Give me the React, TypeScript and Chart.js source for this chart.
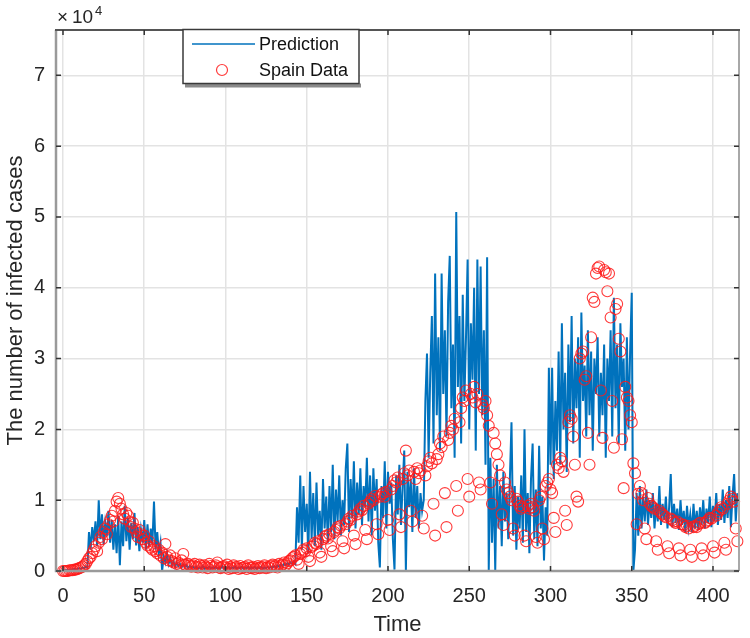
import React, { useEffect, useRef } from 'react';
import { Chart, registerables } from 'chart.js';

Chart.register(...registerables);

// Values are in units of 10^4 cases (the axis shows "x10^4"); index = day (Time)
const spainData: number[] = [
  0.00, 0.00, 0.00, 0.00, 0.01, 0.01, 0.01, 0.02, 0.02, 0.03, // 0-9
  0.04, 0.05, 0.06, 0.08, 0.10, 0.14, 0.18, 0.20, 0.25, 0.30, // 10-19
  0.35, 0.28, 0.40, 0.48, 0.45, 0.55, 0.60, 0.52, 0.66, 0.72, // 20-29
  0.78, 0.70, 0.85, 0.98, 1.03, 0.95, 0.88, 0.80, 0.74, 0.82, // 30-39
  0.78, 0.70, 0.62, 0.68, 0.60, 0.55, 0.48, 0.58, 0.52, 0.45, // 40-49
  0.50, 0.40, 0.36, 0.42, 0.33, 0.30, 0.35, 0.28, 0.25, 0.30, // 50-59
  0.22, 0.26, 0.18, 0.38, 0.20, 0.15, 0.22, 0.14, 0.12, 0.18, // 60-69
  0.10, 0.12, 0.08, 0.15, 0.24, 0.09, 0.07, 0.10, 0.08, 0.06, // 70-79
  0.08, 0.10, 0.06, 0.05, 0.09, 0.07, 0.05, 0.08, 0.06, 0.04, // 80-89
  0.10, 0.07, 0.05, 0.06, 0.08, 0.12, 0.05, 0.04, 0.06, 0.07, // 90-99
  0.05, 0.09, 0.03, 0.06, 0.04, 0.08, 0.05, 0.06, 0.03, 0.07, // 100-109
  0.04, 0.05, 0.06, 0.03, 0.08, 0.05, 0.04, 0.06, 0.03, 0.05, // 110-119
  0.07, 0.04, 0.06, 0.05, 0.08, 0.04, 0.06, 0.05, 0.07, 0.09, // 120-129
  0.06, 0.08, 0.05, 0.10, 0.07, 0.09, 0.12, 0.08, 0.11, 0.14, // 130-139
  0.15, 0.18, 0.20, 0.22, 0.16, 0.10, 0.24, 0.26, 0.30, 0.28, // 140-149
  0.32, 0.20, 0.14, 0.34, 0.36, 0.40, 0.38, 0.42, 0.26, 0.20, // 150-159
  0.45, 0.48, 0.50, 0.46, 0.52, 0.35, 0.28, 0.55, 0.58, 0.62, // 160-169
  0.60, 0.64, 0.42, 0.32, 0.66, 0.70, 0.74, 0.72, 0.78, 0.50, // 170-179
  0.38, 0.80, 0.84, 0.88, 0.86, 0.92, 0.58, 0.45, 0.95, 0.98, // 180-189
  1.02, 1.00, 1.06, 0.66, 0.52, 1.05, 1.08, 1.10, 1.05, 1.12, // 190-199
  0.72, 0.58, 1.15, 1.20, 1.28, 1.25, 1.32, 0.80, 0.62, 1.30, // 200-209
  1.38, 1.70, 1.35, 1.42, 0.85, 0.70, 1.40, 1.30, 1.45, 1.38, // 210-219
  1.42, 0.78, 0.60, 1.35, 1.48, 1.55, 1.60, 1.52, 0.95, 0.50, // 220-229
  1.58, 1.65, 1.80, 1.75, 1.90, 1.10, 0.62, 1.85, 1.95, 2.05, // 230-239
  2.00, 2.15, 1.20, 0.85, 2.10, 2.30, 2.45, 2.40, 2.55, 1.30, // 240-249
  1.05, 2.50, 2.45, 2.60, 2.38, 2.50, 1.25, 1.15, 2.35, 2.30, // 250-259
  2.40, 2.20, 2.05, 1.25, 0.95, 1.95, 1.80, 1.65, 1.50, 1.35, // 260-269
  0.80, 0.65, 1.25, 1.15, 1.10, 1.05, 1.00, 0.60, 0.50, 1.02, // 270-279
  0.98, 0.92, 0.88, 0.90, 0.50, 0.42, 0.92, 0.88, 0.95, 0.90, // 280-289
  0.85, 0.48, 0.40, 1.00, 1.05, 0.60, 0.45, 1.20, 1.25, 1.30, // 290-299
  1.15, 1.10, 0.75, 0.55, 1.50, 1.45, 1.60, 1.55, 1.40, 0.85, // 300-309
  0.65, 2.10, 2.20, 2.15, 1.90, 1.50, 1.05, 0.98, 3.00, 3.07, // 310-319
  3.10, 2.70, 2.75, 1.95, 1.50, 3.30, 3.86, 3.80, 4.20, 4.28, // 320-329
  4.30, 2.55, 1.88, 4.25, 4.22, 3.95, 4.20, 3.58, 2.40, 1.74, // 330-339
  3.70, 3.77, 3.28, 3.10, 1.86, 1.17, 2.60, 2.45, 2.40, 2.20, // 340-349
  2.10, 1.52, 1.38, 0.66, 1.09, 1.20, 1.10, 1.00, 0.60, 0.45, // 350-359
  1.03, 0.95, 0.92, 0.90, 0.88, 0.42, 0.30, 0.85, 0.82, 0.80, // 360-369
  0.78, 0.76, 0.35, 0.25, 0.74, 0.72, 0.70, 0.68, 0.70, 0.32, // 370-379
  0.22, 0.66, 0.65, 0.62, 0.64, 0.60, 0.30, 0.20, 0.62, 0.64, // 380-389
  0.62, 0.66, 0.68, 0.32, 0.22, 0.68, 0.70, 0.72, 0.75, 0.74, // 390-399
  0.35, 0.26, 0.78, 0.82, 0.86, 0.90, 0.88, 0.40, 0.30, 0.95, // 400-409
  1.00, 1.05, 1.02, 0.98, 0.60, 0.42,                         // 410-415
];

const prediction: number[] = [
  0.01, 0.01, 0.01, 0.02, 0.01, 0.02, 0.02, 0.03, 0.02, 0.03, // 0-9
  0.04, 0.03, 0.05, 0.04, 0.06, 0.05, 0.55, 0.30, 0.62, 0.42, // 10-19
  0.70, 0.35, 1.00, 0.45, 0.80, 0.38, 0.68, 0.50, 0.85, 0.40, // 20-29
  0.72, 0.30, 0.66, 0.25, 0.78, 0.08, 0.70, 0.35, 0.92, 0.42, // 30-39
  0.75, 0.30, 0.68, 0.45, 0.82, 0.36, 0.62, 0.28, 0.58, 0.40, // 40-49
  0.72, 0.30, 0.66, 0.35, 0.60, 0.38, 0.98, 0.30, 0.55, 0.25, // 50-59
  0.40, 0.00, 0.20, 0.12, 0.25, 0.10, 0.18, 0.08, 0.14, 0.06, // 60-69
  0.12, 0.07, 0.10, 0.05, 0.09, 0.06, 0.08, 0.04, 0.07, 0.05, // 70-79
  0.06, 0.04, 0.06, 0.03, 0.05, 0.04, 0.07, 0.03, 0.05, 0.04, // 80-89
  0.06, 0.03, 0.05, 0.04, 0.06, 0.03, 0.05, 0.04, 0.07, 0.03, // 90-99
  0.05, 0.04, 0.06, 0.03, 0.05, 0.04, 0.06, 0.03, 0.05, 0.04, // 100-109
  0.06, 0.03, 0.05, 0.04, 0.06, 0.03, 0.05, 0.04, 0.06, 0.03, // 110-119
  0.05, 0.04, 0.06, 0.03, 0.05, 0.04, 0.06, 0.04, 0.06, 0.05, // 120-129
  0.07, 0.05, 0.08, 0.06, 0.09, 0.07, 0.10, 0.08, 0.11, 0.09, // 130-139
  0.12, 0.10, 0.13, 0.10, 0.90, 0.40, 1.35, 0.30, 1.20, 0.55, // 140-149
  0.95, 0.25, 1.40, 0.45, 1.10, 0.35, 1.25, 0.50, 0.85, 0.30, // 150-159
  1.30, 0.60, 1.05, 0.40, 1.20, 0.55, 1.50, 0.45, 1.15, 0.70, // 160-169
  1.35, 0.50, 1.00, 0.65, 1.45, 1.80, 0.55, 1.30, 0.75, 1.55, // 170-179
  0.60, 1.25, 0.80, 1.45, 0.65, 1.20, 0.90, 1.60, 0.70, 1.35, // 180-189
  0.50, 1.45, 0.85, 1.30, 0.40, 0.05, 1.20, 0.75, 1.55, 0.60, // 190-199
  1.40, 0.95, 1.25, 0.45, 0.02, 1.35, 0.80, 1.50, 0.65, 1.20, // 200-209
  1.70, 0.00, 1.40, 0.90, 1.30, 0.55, 1.45, 0.75, 1.20, 0.60, // 210-219
  1.10, 0.85, 1.00, 2.40, 3.07, 1.60, 2.80, 3.60, 1.80, 4.20, // 220-229
  2.20, 3.30, 1.70, 4.20, 2.50, 3.40, 1.90, 3.80, 4.45, 2.30, // 230-239
  3.20, 1.60, 5.07, 2.60, 3.60, 1.80, 3.90, 2.40, 3.30, 4.40, // 240-249
  2.00, 3.50, 2.70, 4.00, 1.70, 4.40, 2.50, 4.30, 2.20, 3.40, // 250-259
  1.50, 4.43, 0.00, 1.60, 0.40, 1.30, 0.00, 1.50, 0.60, 1.20, // 260-269
  0.35, 1.40, 0.70, 1.10, 0.45, 1.30, 2.10, 0.50, 1.20, 0.30, // 270-279
  1.05, 0.60, 1.35, 0.40, 2.00, 0.55, 1.10, 0.25, 1.30, 1.80, // 280-289
  0.45, 1.15, 0.35, 1.77, 0.60, 1.05, 0.15, 0.90, 0.50, 2.87, // 290-299
  1.50, 2.87, 1.30, 2.40, 1.70, 3.10, 1.50, 3.50, 2.00, 2.80, // 300-309
  1.40, 3.20, 2.10, 3.60, 1.80, 3.00, 2.30, 3.30, 1.60, 3.65, // 310-319
  2.40, 2.90, 1.90, 3.40, 2.20, 3.10, 1.70, 3.00, 2.50, 3.30, // 320-329
  1.90, 2.80, 2.20, 3.20, 1.60, 3.00, 2.40, 3.40, 1.90, 3.86, // 330-339
  2.30, 3.20, 1.80, 3.50, 2.60, 3.00, 1.70, 3.30, 2.00, 3.10, // 340-349
  3.93, 0.00, 0.30, 1.10, 0.50, 1.20, 0.60, 1.05, 0.70, 1.15, // 350-359
  0.65, 1.00, 0.75, 1.10, 0.60, 0.95, 0.70, 1.20, 0.65, 0.95, // 360-369
  0.72, 1.05, 0.60, 0.90, 1.37, 0.62, 0.95, 0.68, 0.88, 0.58, // 370-379
  1.00, 0.65, 0.85, 0.55, 0.92, 0.62, 0.80, 0.55, 0.95, 0.60, // 380-389
  0.85, 0.58, 0.90, 0.65, 1.00, 0.60, 0.88, 0.68, 1.05, 0.62, // 390-399
  0.92, 0.70, 1.10, 0.65, 0.95, 0.72, 1.15, 0.68, 1.00, 0.75, // 400-409
  1.20, 0.62, 1.05, 1.37, 0.70, 1.10,                         // 410-415
];

const xTickValues: number[] = [0, 50, 100, 150, 200, 250, 300, 350, 400];
const yTickValues: number[] = [0, 1, 2, 3, 4, 5, 6, 7];
const xLimits: number[] = [-4.3, 416];
const yLimits: number[] = [0, 7.64];

const xTitle = 'Time';
const yTitle = 'The number of infected cases';
const seriesNames: string[] = ['Prediction', 'Spain Data'];
const exponentBase = '\u00d7';
const exponentText = '10';
const exponentPower = '4';

const FONT = '"Liberation Sans", Arial, Helvetica, sans-serif';
const BLUE = '#0072BD';
const RED = 'rgba(255, 25, 25, 0.85)';
const TEXT = '#262626';

const decorPlugin = {
  id: 'matlabDecor',
  afterDraw(chart: any) {
    const { ctx, chartArea, scales } = chart;
    const { left, right, top, bottom } = chartArea;
    ctx.save();
    // axes box
    ctx.lineCap = 'butt';
    ctx.strokeStyle = '#9a9a9a';
    ctx.lineWidth = 2.5;
    ctx.beginPath();
    ctx.moveTo(left, top);
    ctx.lineTo(left, bottom);
    ctx.lineTo(right, bottom);
    ctx.stroke();
    ctx.strokeStyle = '#a8a8a8';
    ctx.lineWidth = 2;
    ctx.beginPath();
    ctx.moveTo(right, bottom);
    ctx.lineTo(right, top);
    ctx.stroke();
    ctx.strokeStyle = '#555555';
    ctx.lineWidth = 2;
    ctx.beginPath();
    ctx.moveTo(left - 1, top);
    ctx.lineTo(right + 1, top);
    ctx.stroke();

    // inward ticks
    ctx.strokeStyle = '#333333';
    ctx.lineWidth = 1.5;
    const tl = 5;
    ctx.beginPath();
    xTickValues.forEach((v) => {
      const px = scales.x.getPixelForValue(v);
      ctx.moveTo(px, bottom);
      ctx.lineTo(px, bottom - tl);
      ctx.moveTo(px, top);
      ctx.lineTo(px, top + tl);
    });
    yTickValues.forEach((v) => {
      const py = scales.y.getPixelForValue(v);
      ctx.moveTo(left, py);
      ctx.lineTo(left + tl, py);
      ctx.moveTo(right, py);
      ctx.lineTo(right - tl, py);
    });
    ctx.stroke();

    // exponent label
    ctx.fillStyle = TEXT;
    ctx.textBaseline = 'alphabetic';
    ctx.textAlign = 'left';
    ctx.font = `19px ${FONT}`;
    ctx.fillText(exponentBase, left + 1, 23);
    ctx.fillText(exponentText, left + 16, 23);
    ctx.font = `13px ${FONT}`;
    ctx.fillText(exponentPower, left + 39, 15);

    // legend
    const lx = 183;
    const ly = 29.5;
    const lw = 176;
    const lh = 54;
    ctx.fillStyle = '#8a8a8a';
    ctx.fillRect(lx + 2, ly + lh, lw, 4);
    ctx.fillStyle = '#ffffff';
    ctx.fillRect(lx, ly, lw, lh);
    ctx.strokeStyle = '#3a3a3a';
    ctx.lineWidth = 1.5;
    ctx.strokeRect(lx, ly, lw, lh);

    ctx.strokeStyle = BLUE;
    ctx.lineWidth = 1.5;
    ctx.beginPath();
    ctx.moveTo(192, 44);
    ctx.lineTo(255, 44);
    ctx.stroke();

    ctx.strokeStyle = RED;
    ctx.lineWidth = 1.2;
    ctx.beginPath();
    ctx.arc(222, 70, 5.5, 0, Math.PI * 2);
    ctx.stroke();

    ctx.fillStyle = '#111111';
    ctx.font = `18px ${FONT}`;
    ctx.textBaseline = 'middle';
    ctx.fillText(seriesNames[0], 259, 45);
    ctx.fillText(seriesNames[1], 259, 71);
    ctx.restore();
  },
};

export default function App() {
  const ref = useRef<HTMLCanvasElement>(null);

  useEffect(() => {
    if (!ref.current) return;
    const predPoints = prediction.map((v, i) => ({ x: i, y: v }));
    const spainPoints = spainData.map((v, i) => ({ x: i, y: v }));

    const chart = new Chart(ref.current, {
      type: 'line',
      data: {
        datasets: [
          {
            type: 'scatter',
            label: seriesNames[1],
            data: spainPoints,
            showLine: false,
            pointStyle: 'circle',
            pointRadius: 5.5,
            pointBorderWidth: 1.1,
            borderColor: RED,
            backgroundColor: 'rgba(0,0,0,0)',
            pointBackgroundColor: 'rgba(0,0,0,0)',
            pointBorderColor: RED,
            order: 0,
            clip: false,
          } as any,
          {
            type: 'line',
            label: seriesNames[0],
            data: predPoints,
            borderColor: BLUE,
            borderWidth: 2,
            borderJoinStyle: 'miter',
            pointRadius: 0,
            tension: 0,
            fill: false,
            order: 1,
          } as any,
        ],
      },
      options: {
        responsive: false,
        animation: false,
        events: [],
        layout: { padding: { top: 30, right: 11, left: 0, bottom: 0 } },
        plugins: {
          legend: { display: false },
          tooltip: { enabled: false },
        },
        scales: {
          x: {
            type: 'linear',
            min: xLimits[0],
            max: xLimits[1],
            afterBuildTicks: (scale: any) => {
              scale.ticks = xTickValues.map((v) => ({ value: v }));
            },
            afterFit: (scale: any) => {
              scale.height = 67;
            },
            grid: { color: '#e3e3e3', lineWidth: 1.5, drawTicks: false },
            border: { display: false },
            ticks: {
              autoSkip: false,
              maxRotation: 0,
              padding: 13,
              color: TEXT,
              font: { family: FONT, size: 20 },
            },
            title: {
              display: true,
              text: xTitle,
              color: TEXT,
              font: { family: FONT, size: 22 },
              padding: { top: 0, bottom: 0 },
            },
          },
          y: {
            type: 'linear',
            min: yLimits[0],
            max: yLimits[1],
            afterBuildTicks: (scale: any) => {
              scale.ticks = yTickValues.map((v) => ({ value: v }));
            },
            afterFit: (scale: any) => {
              scale.width = 56;
            },
            grid: { color: '#e3e3e3', lineWidth: 1.5, drawTicks: false },
            border: { display: false },
            ticks: {
              autoSkip: false,
              padding: 11,
              color: TEXT,
              font: { family: FONT, size: 20 },
            },
            title: {
              display: true,
              text: yTitle,
              color: TEXT,
              font: { family: FONT, size: 22 },
              padding: { top: 3, bottom: 0 },
            },
          },
        },
      } as any,
      plugins: [decorPlugin],
    });

    return () => chart.destroy();
  }, []);

  return (
    <div style={{ position: 'absolute', left: 0, top: 0, width: 750, height: 638, background: '#ffffff' }}>
      <canvas ref={ref} width={750} height={638} style={{ display: 'block' }} />
    </div>
  );
}
